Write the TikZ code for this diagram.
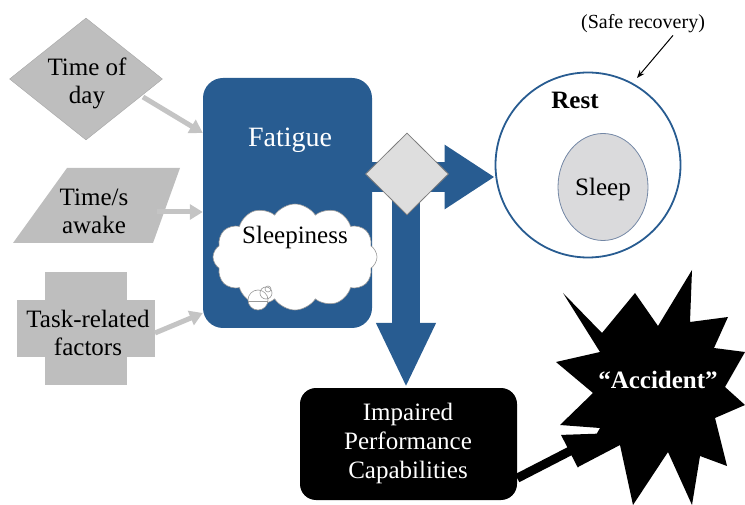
\documentclass[tikz,border=0pt]{standalone}
\usepackage{fontspec}
\setmainfont{Liberation Serif}
\newfontfamily\refserif{Liberation Serif}
\usetikzlibrary{shapes.geometric,shapes.symbols,arrows.meta,calc}
\definecolor{fatblue}{RGB}{40,92,145}
\definecolor{ingray}{RGB}{190,190,190}
\definecolor{arrgray}{RGB}{196,196,196}
\definecolor{gatefill}{RGB}{222,222,222}
\definecolor{gateline}{RGB}{125,125,125}
\definecolor{sleepfill}{RGB}{218,218,220}
\definecolor{sleepline}{RGB}{115,135,165}
\tikzset{
  lbl/.style={font=\refserif\fontsize{25}{28}\selectfont, align=center, inner sep=0pt},
  inputarrow/.style={draw=arrgray, line width=5pt, -{Triangle[length=13pt,width=15pt]}},
  blockarrow/.style={draw=fatblue},
}
\begin{document}
\begin{tikzpicture}[x=1pt,y=-1pt]
\useasboundingbox (0,0) rectangle (745,505);
% ---- inputs
\node[diamond, fill=ingray, draw=gray!70, minimum width=153pt, minimum height=122pt, inner sep=0pt] (tod) at (86,79) {};
\node[lbl] (todt) at (87,83) {Time of\\day};
\fill[ingray] (67,168) -- (180,168) -- (153,243) -- (13,243) -- cycle;
\node[lbl] (awake) at (94,211) {Time/s\\awake};
\fill[ingray] (45,272) rectangle (127,385);
\fill[ingray] (17,300) rectangle (155,357);
\node[lbl] (task) at (88,333) {Task-related\\factors};
% ---- fatigue box
\node[rectangle, rounded corners=20pt, fill=fatblue, minimum width=169pt, minimum height=250pt, inner sep=0pt] (fatigue) at (287.5,203) {};
\node[lbl, text=white, font=\refserif\fontsize{28}{32}\selectfont] (fatiguet) at (290,140) {Fatigue};
% input arrows
\coordinate (todS) at (143,97);
\coordinate (awakeS) at (157,212);
\coordinate (taskS) at (155,333);
\draw[inputarrow] (todS) -- (fatigue.west |- 0,133);
\draw[inputarrow] (awakeS) -- (fatigue.west |- awakeS);
\draw[inputarrow] (taskS) -- (fatigue.west |- 0,313);
% cloud
\node[cloud, cloud puffs=12, cloud puff arc=115, aspect=1.6, fill=white, draw=gray!80, line width=0.6pt, minimum width=164pt, minimum height=106pt, inner sep=0pt] (cloud) at (295,257) {};
\node[lbl] (sleepy) at (295,237) {Sleepiness};
\draw[gray!80, line width=0.6pt, fill=white] (258,300) circle (10pt);
\draw[gray!80, line width=0.6pt] (266,293) circle (6pt);
\draw[gray!80, line width=0.6pt] (268,289) circle (3pt);
\draw[gray!80, line width=0.6pt] (248,301) -- (268,301);
% ---- rest / sleep
\node[circle, draw=fatblue, line width=1.8pt, minimum size=185pt, inner sep=0pt] (rest) at (588,165) {};
\node[lbl, font=\refserif\bfseries\fontsize{25}{28}\selectfont] (restt) at (575,100) {Rest};
\node[ellipse, fill=sleepfill, draw=sleepline, line width=0.8pt, minimum width=90pt, minimum height=107pt, inner sep=0pt] (sleep) at (603,187) {};
\node[lbl] (sleept) at (603,189) {Sleep};
\node[lbl, font=\refserif\fontsize{20}{24}\selectfont] (safe) at (643,24) {(Safe recovery)};
\coordinate (safetip) at (637,78);
\draw[-{Stealth[length=8pt,width=6pt]}, line width=1pt] ([xshift=30pt,yshift=-2pt]safe.south) -- (safetip);
% ---- impaired
\node[rectangle, rounded corners=16pt, fill=black, minimum width=217pt, minimum height=112pt, inner sep=0pt] (impaired) at (408.5,444) {};
\node[lbl, text=white, font=\refserif\fontsize{25}{29}\selectfont] (impairedt) at (408,443) {Impaired\\Performance\\Capabilities};
% ---- gate + block arrows
\coordinate (gatec) at (407,174);
\draw[blockarrow, line width=30pt, -{Triangle[length=50pt,width=61pt]}] (fatigue.east |- 0,177) -- (rest.west |- 0,177);
\draw[blockarrow, line width=28pt, -{Triangle[length=65pt,width=55pt]}] (406,190) -- (impaired.north -| 406,0);
\node[diamond, fill=gatefill, draw=gateline, line width=0.8pt, minimum width=83pt, minimum height=82pt, inner sep=0pt] (gate) at (gatec) {};
% ---- accident star
\fill[black] (563,293) -- (602,333) -- (635,293) -- (658,326) -- (692,270) -- (690,322)
  -- (728,317) -- (714,348) -- (745,352) -- (725,387) -- (745,405) -- (715,418)
  -- (727,466) -- (700,456) -- (692,505) -- (668,452) -- (633,505) -- (620,445)
  -- (578,467) -- (600,428) -- (560,425) -- (593,393) -- (556,362) -- (600,352) -- cycle;
\node[lbl, text=white, font=\refserif\bfseries\fontsize{25}{28}\selectfont] (accident) at (658,380) {“Accident”};
\coordinate (acctip) at (605,433);
\draw[line width=9pt, -{Triangle[length=40pt,width=34pt]}] ([yshift=22pt]impaired.south east) -- (acctip);
\end{tikzpicture}
\end{document}
